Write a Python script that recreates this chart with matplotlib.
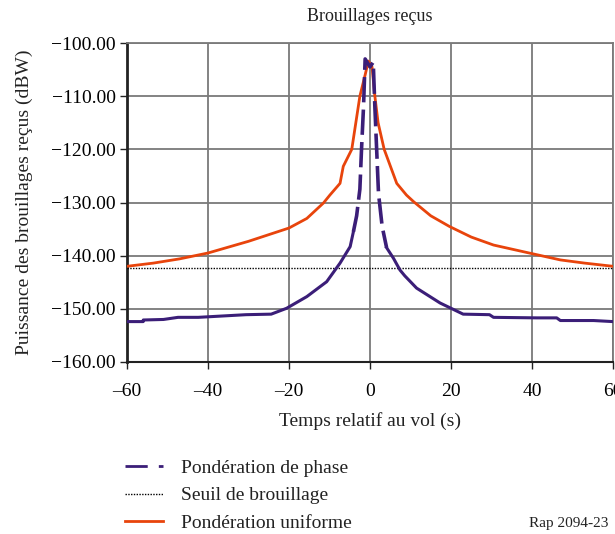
import matplotlib
matplotlib.use("Agg")
import matplotlib.pyplot as plt
import numpy as np
from matplotlib.lines import Line2D

# Uniform weighting (orange)
t_uniform = [-60, -53.5, -47, -40, -30, -20, -15.6, -11.5, -9.9, -7.4, -6.6, -4.5,
             -2.5, -1.2, -0.4, 0.5, 1.2, 2.0, 3.5, 6.6, 9.0, 10.7, 15, 19.6, 25,
             30.5, 39.3, 47, 53, 60]
p_uniform = [-142.0, -141.4, -140.6, -139.5, -137.3, -134.8, -133.0, -130.1, -128.6,
             -126.4, -123.2, -120.0, -110.0, -106.0, -103.4, -104.5, -110.0, -115.0,
             -120.0, -126.4, -128.6, -129.8, -132.5, -134.5, -136.5, -138.0, -139.5,
             -140.8, -141.4, -142.0]

# Phase weighting (purple)
t_phase = [-60, -56, -56, -51, -47.4, -42.4, -30.6, -24.4, -20.6, -15.6, -10.7, -7.4,
           -4.9, -4.1, -3.3, -2.5, -2.1, -1.6, -1.2, 0.0, 0.8, 1.2, 2.1, 3.0, 4.1, 5.8,
           7.4, 8.6, 11.5, 17.3, 23, 29.5, 30.5, 41.2, 46.1, 47, 55.2, 60]
p_phase = [-152.4, -152.4, -152.1, -152.0, -151.6, -151.6, -151.1, -151.0, -149.9,
           -147.7, -144.9, -141.4, -138.3, -135.5, -132.5, -127.5, -120.1, -112.0,
           -103.0, -104.5, -103.6, -112.0, -128.3, -134.5, -138.5, -140.5, -142.7,
           -143.8, -146.1, -148.9, -151.0, -151.1, -151.6, -151.7, -151.7, -152.2,
           -152.2, -152.4]

threshold = -142.3

x_ticks = [-60, -40, -20, 0, 20, 40, 60]
y_ticks = [-160, -150, -140, -130, -120, -110, -100]

ORANGE = "#E8440C"
PURPLE = "#3B1E78"

plt.rcParams["font.family"] = ["Liberation Serif", "DejaVu Serif"]

fig = plt.figure(figsize=(6.15, 5.34), dpi=100)
ax = fig.add_axes([127 / 615, 1 - 362 / 534, (613 - 127) / 615, (362 - 43) / 534])

t_ph = np.array(t_phase)
p_ph = np.array(p_phase)
centre = (t_ph >= -4.1) & (t_ph <= 4.1)
left = t_ph <= -4.1
right = t_ph >= 4.1

ax.axhline(threshold, color="black", lw=1.0, ls=(0, (1, 1)), zorder=3)
ax.plot(t_uniform, p_uniform, color=ORANGE, lw=2.0, zorder=4)
ax.plot(t_ph[left], p_ph[left], color=PURPLE, lw=2.2, zorder=5)
ax.plot(t_ph[right], p_ph[right], color=PURPLE, lw=2.2, zorder=5)
ax.plot(t_ph[centre], p_ph[centre], color=PURPLE, lw=2.6, ls=(0, (7, 2)), zorder=5)

ax.set_xlim(-60, 60)
ax.set_ylim(-160, -100)
ax.set_xticks(x_ticks)
ax.set_yticks(y_ticks)
ax.set_xticklabels([str(v).replace("-", "\u2013") for v in x_ticks])
ax.set_yticklabels([f"{v:.2f}".replace("-", "\u2212") for v in y_ticks])
ax.tick_params(axis="both", labelsize=14, length=5, width=1, color="#222222")
ax.tick_params(axis="x", pad=10)
ax.tick_params(axis="y", pad=3)
ax.grid(True, color="#7a7a7a", lw=1.3)
ax.set_axisbelow(True)
for side in ("top", "right"):
    ax.spines[side].set_color("#7a7a7a")
    ax.spines[side].set_linewidth(1.3)
ax.spines["left"].set_linewidth(2)
ax.spines["left"].set_color("#222222")
ax.spines["bottom"].set_linewidth(1.5)
ax.spines["bottom"].set_color("#222222")

ax.set_title("Brouillages reçus", fontsize=13, pad=16, color="#222222")
ax.set_xlabel("Temps relatif au vol (s)", fontsize=14, labelpad=9, color="#222222")
ax.set_ylabel("Puissance des brouillages reçus (dBW)", fontsize=14, labelpad=13, color="#222222")

handles = [
    Line2D([], [], color=PURPLE, lw=2, ls=(0, (8, 4))),
    Line2D([], [], color="black", lw=1, ls=(0, (1, 1))),
    Line2D([], [], color=ORANGE, lw=2),
]
labels = ["Pondération de phase", "Seuil de brouillage", "Pondération uniforme"]
fig.legend(handles, labels, loc="upper left", bbox_to_anchor=(107 / 615, 1 - 442 / 534),
           frameon=False, fontsize=14, handlelength=2.0, handletextpad=0.9,
           labelspacing=0.5, labelcolor="#222222")

fig.text(608 / 615, 1 - 524 / 534, "Rap 2094-23", ha="right", va="center",
         fontsize=11, color="#222222")

fig.savefig("out.png", dpi=100)
